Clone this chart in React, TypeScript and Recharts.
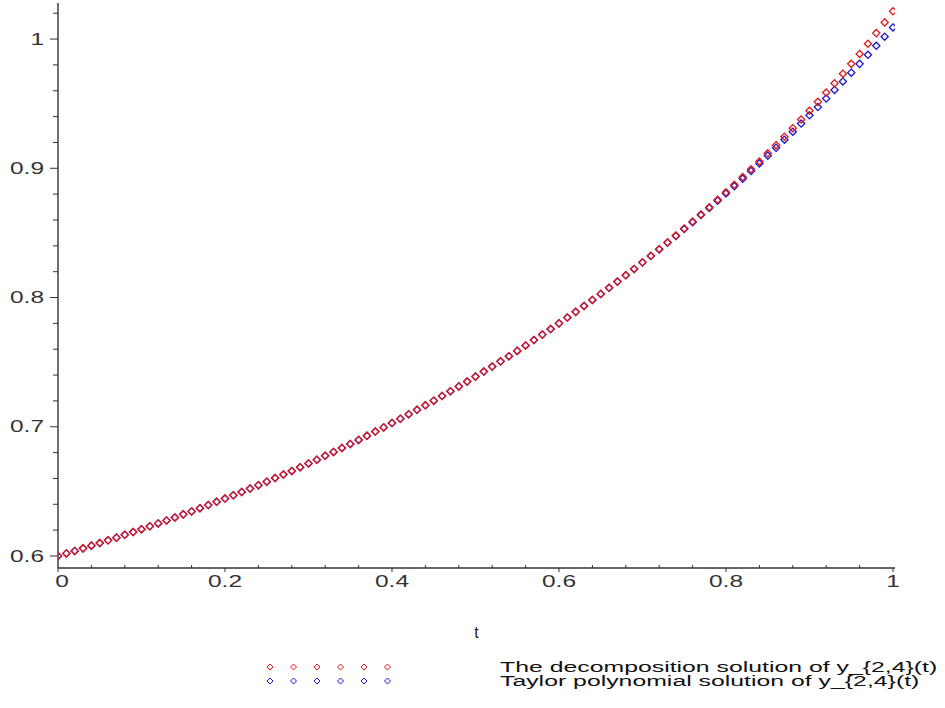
import React from 'react';
import { ScatterChart, Scatter, XAxis, YAxis } from 'recharts';

const tValues = [
  0, 0.01, 0.02, 0.03, 0.04, 0.05, 0.06, 0.07, 0.08, 0.09,
  0.1, 0.11, 0.12, 0.13, 0.14, 0.15, 0.16, 0.17, 0.18, 0.19,
  0.2, 0.21, 0.22, 0.23, 0.24, 0.25, 0.26, 0.27, 0.28, 0.29,
  0.3, 0.31, 0.32, 0.33, 0.34, 0.35, 0.36, 0.37, 0.38, 0.39,
  0.4, 0.41, 0.42, 0.43, 0.44, 0.45, 0.46, 0.47, 0.48, 0.49,
  0.5, 0.51, 0.52, 0.53, 0.54, 0.55, 0.56, 0.57, 0.58, 0.59,
  0.6, 0.61, 0.62, 0.63, 0.64, 0.65, 0.66, 0.67, 0.68, 0.69,
  0.7, 0.71, 0.72, 0.73, 0.74, 0.75, 0.76, 0.77, 0.78, 0.79,
  0.8, 0.81, 0.82, 0.83, 0.84, 0.85, 0.86, 0.87, 0.88, 0.89,
  0.9, 0.91, 0.92, 0.93, 0.94, 0.95, 0.96, 0.97, 0.98, 0.99,
  1,
];

const taylorValues = [
  0.6, 0.602, 0.6039, 0.6059, 0.608, 0.61, 0.6121, 0.6142, 0.6164, 0.6185,
  0.6207, 0.623, 0.6252, 0.6275, 0.6298, 0.6322, 0.6345, 0.637, 0.6394, 0.6419,
  0.6444, 0.647, 0.6495, 0.6522, 0.6548, 0.6575, 0.6603, 0.663, 0.6658, 0.6687,
  0.6716, 0.6745, 0.6775, 0.6805, 0.6836, 0.6867, 0.6898, 0.693, 0.6963, 0.6995,
  0.7029, 0.7062, 0.7097, 0.7131, 0.7166, 0.7202, 0.7238, 0.7275, 0.7312, 0.735,
  0.7388, 0.7427, 0.7466, 0.7506, 0.7546, 0.7587, 0.7629, 0.7671, 0.7713, 0.7756,
  0.78, 0.7845, 0.7889, 0.7935, 0.7981, 0.8028, 0.8075, 0.8123, 0.8172, 0.8221,
  0.8271, 0.8321, 0.8372, 0.8424, 0.8476, 0.853, 0.8583, 0.8638, 0.8693, 0.8749,
  0.8805, 0.8862, 0.892, 0.8979, 0.9038, 0.9098, 0.9159, 0.9221, 0.9283, 0.9346,
  0.941, 0.9474, 0.954, 0.9606, 0.9672, 0.974, 0.9808, 0.9878, 0.9948, 1.0018,
  1.009,
];

const decompositionValues = [
  0.6, 0.602, 0.6039, 0.6059, 0.608, 0.61, 0.6121, 0.6142, 0.6164, 0.6185,
  0.6207, 0.623, 0.6252, 0.6275, 0.6298, 0.6322, 0.6345, 0.637, 0.6394, 0.6419,
  0.6444, 0.647, 0.6495, 0.6522, 0.6548, 0.6575, 0.6603, 0.663, 0.6658, 0.6687,
  0.6716, 0.6745, 0.6775, 0.6805, 0.6836, 0.6867, 0.6898, 0.693, 0.6963, 0.6995,
  0.7029, 0.7062, 0.7097, 0.7131, 0.7166, 0.7202, 0.7238, 0.7275, 0.7312, 0.735,
  0.7388, 0.7427, 0.7466, 0.7506, 0.7546, 0.7587, 0.7629, 0.7671, 0.7713, 0.7756,
  0.78, 0.7845, 0.7889, 0.7935, 0.7981, 0.8028, 0.8075, 0.8123, 0.8172, 0.8221,
  0.8273, 0.8323, 0.8375, 0.8427, 0.8479, 0.8534, 0.8588, 0.8643, 0.8699, 0.8756,
  0.8814, 0.8872, 0.8932, 0.8992, 0.9053, 0.9116, 0.9179, 0.9244, 0.931, 0.9377,
  0.9445, 0.9514, 0.9586, 0.9658, 0.9732, 0.9808, 0.9885, 0.9964, 1.0046, 1.0129,
  1.0215,
];

const xTicks = [
  0, 0.04, 0.08, 0.12, 0.16, 0.2, 0.24, 0.28, 0.32, 0.36, 0.4, 0.44, 0.48,
  0.52, 0.56, 0.6, 0.64, 0.68, 0.72, 0.76, 0.8, 0.84, 0.88, 0.92, 0.96, 1,
];
const xMajorTicks = [0, 0.2, 0.4, 0.6, 0.8, 1];
const xMajorLabels = ['0', '0.2', '0.4', '0.6', '0.8', '1'];

const yTicks = [
  0.6, 0.62, 0.64, 0.66, 0.68, 0.7, 0.72, 0.74, 0.76, 0.78, 0.8, 0.82, 0.84,
  0.86, 0.88, 0.9, 0.92, 0.94, 0.96, 0.98, 1, 1.02,
];
const yMajorTicks = [0.6, 0.7, 0.8, 0.9, 1];
const yMajorLabels = ['0.6', '0.7', '0.8', '0.9', '1'];

const seriesNames = [
  'The decomposition solution of y_{2,4}(t)',
  'Taylor polynomial solution of y_{2,4}(t)',
];
const xAxisTitle = 't';

const RED = '#e01818';
const BLUE = '#1818d0';
const AXIS = '#333333';
const FONT = "'Liberation Sans', Arial, sans-serif";
const STRETCH = 1.53;

const decompositionData = tValues.map((t, i) => ({ t, y: decompositionValues[i] }));
const taylorData = tValues.map((t, i) => ({ t, y: taylorValues[i] }));

const diamondPath = (cx: number, cy: number, r: number) =>
  `M${cx},${cy - r} L${cx + r},${cy} L${cx},${cy + r} L${cx - r},${cy} Z`;

const makeDiamond = (color: string) => (props: any) => {
  const { cx, cy } = props;
  if (cx == null || cy == null) return <g />;
  return <path d={diamondPath(cx, cy, 3.6)} fill="none" stroke={color} strokeWidth={1.3} />;
};

const XTick = (props: any) => {
  const { x, y, payload } = props;
  const v = payload.value;
  const idx = xMajorTicks.findIndex((m) => Math.abs(m - v) < 1e-6);
  if (idx < 0) {
    return <line x1={x} x2={x} y1={y - 3} y2={y} stroke={AXIS} strokeWidth={1} />;
  }
  const dx = v === 0 ? 4 : 0;
  return (
    <g>
      <line x1={x} x2={x} y1={y} y2={y + 4} stroke={AXIS} strokeWidth={1} />
      <text
        transform={`translate(${x + dx},${y + 19}) scale(${STRETCH},1)`}
        textAnchor="middle"
        fontFamily={FONT}
        fontSize={16}
        fill="#333"
      >
        {xMajorLabels[idx]}
      </text>
    </g>
  );
};

const YTick = (props: any) => {
  const { x, y, payload } = props;
  const v = payload.value;
  const idx = yMajorTicks.findIndex((m) => Math.abs(m - v) < 1e-6);
  if (idx < 0) {
    return <line x1={x - 5} x2={x} y1={y} y2={y} stroke={AXIS} strokeWidth={1} />;
  }
  return (
    <g>
      <line x1={x - 8} x2={x} y1={y} y2={y} stroke={AXIS} strokeWidth={1} />
      <text
        transform={`translate(${x - 14},${y + 5.7}) scale(${STRETCH},1)`}
        textAnchor="end"
        fontFamily={FONT}
        fontSize={16}
        fill="#333"
      >
        {yMajorLabels[idx]}
      </text>
    </g>
  );
};

const legendMarkerX = [270, 293.5, 317, 340.5, 364, 387.5];
const legendRows = [
  { y: 667, color: RED, name: seriesNames[0] },
  { y: 681, color: BLUE, name: seriesNames[1] },
];

export default function App() {
  return (
    <div style={{ position: 'absolute', left: 0, top: 0, width: 945, height: 708, background: '#fff' }}>
      <ScatterChart width={945} height={708} margin={{ top: 3, right: 50, bottom: 0, left: 0 }}>
        <XAxis
          type="number"
          dataKey="t"
          domain={[0, 1.0024]}
          ticks={xTicks}
          interval={0}
          tickSize={0}
          tickMargin={0}
          tickLine={false}
          allowDataOverflow
          axisLine={{ stroke: AXIS, strokeWidth: 1.4 }}
          tick={(p: any) => <XTick {...p} />}
          height={140}
          label={{ value: xAxisTitle, position: 'insideTop', offset: 59, fill: '#222', fontSize: 16, fontFamily: FONT }}
        />
        <YAxis
          type="number"
          dataKey="y"
          domain={[0.5907, 1.0279]}
          ticks={yTicks}
          interval={0}
          tickSize={0}
          tickMargin={0}
          tickLine={false}
          allowDataOverflow
          axisLine={{ stroke: AXIS, strokeWidth: 1.4 }}
          tick={(p: any) => <YTick {...p} />}
          width={58}
        />
        <Scatter
          name={seriesNames[1]}
          data={taylorData}
          shape={makeDiamond(BLUE)}
          isAnimationActive={false}
        />
        <Scatter
          name={seriesNames[0]}
          data={decompositionData}
          shape={makeDiamond(RED)}
          isAnimationActive={false}
        />
      </ScatterChart>
      <svg
        width={945}
        height={708}
        style={{ position: 'absolute', left: 0, top: 0, pointerEvents: 'none' }}
      >
        {legendRows.map((row) => (
          <g key={row.name}>
            {legendMarkerX.map((mx) => (
              <path key={mx} d={diamondPath(mx, row.y, 3)} fill="none" stroke={row.color} strokeWidth={1} />
            ))}
            <text
              transform={`translate(500,${row.y + 5.2}) scale(1.655,1)`}
              fontFamily={FONT}
              fontSize={15}
              fill="#111"
            >
              {row.name}
            </text>
          </g>
        ))}
      </svg>
    </div>
  );
}
